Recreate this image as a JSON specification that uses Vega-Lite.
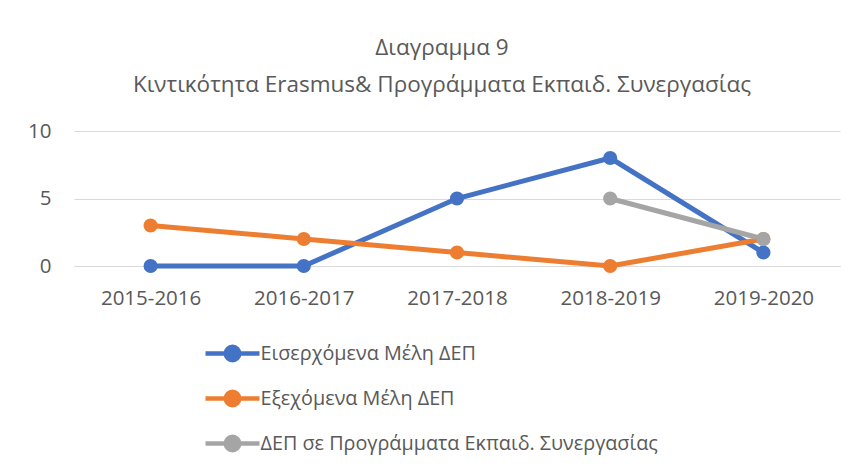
{
  "$schema": "https://vega.github.io/schema/vega-lite/v6.json",
  "autosize": "none",
  "width": 766,
  "height": 135,
  "padding": {"left": 74, "top": 131, "right": 18, "bottom": 202},
  "background": "white",
  "title": {
    "text": ["Διαγραμμα 9", "Κιντικότητα Erasmus& Προγράμματα Εκπαιδ. Συνεργασίας"],
    "anchor": "middle",
    "dx": -15,
    "offset": 25,
    "font": "Open Sans",
    "fontSize": 22.5,
    "fontWeight": "normal",
    "color": "#595959",
    "lineHeight": 37
  },
  "data": {
    "values": [
      {"year": "2015-2016", "series": "Εισερχόμενα Μέλη ΔΕΠ", "value": 0},
      {"year": "2016-2017", "series": "Εισερχόμενα Μέλη ΔΕΠ", "value": 0},
      {"year": "2017-2018", "series": "Εισερχόμενα Μέλη ΔΕΠ", "value": 5},
      {"year": "2018-2019", "series": "Εισερχόμενα Μέλη ΔΕΠ", "value": 8},
      {"year": "2019-2020", "series": "Εισερχόμενα Μέλη ΔΕΠ", "value": 1},
      {"year": "2015-2016", "series": "Εξεχόμενα Μέλη ΔΕΠ", "value": 3},
      {"year": "2016-2017", "series": "Εξεχόμενα Μέλη ΔΕΠ", "value": 2},
      {"year": "2017-2018", "series": "Εξεχόμενα Μέλη ΔΕΠ", "value": 1},
      {"year": "2018-2019", "series": "Εξεχόμενα Μέλη ΔΕΠ", "value": 0},
      {"year": "2019-2020", "series": "Εξεχόμενα Μέλη ΔΕΠ", "value": 2},
      {"year": "2018-2019", "series": "ΔΕΠ σε Προγράμματα Εκπαιδ. Συνεργασίας", "value": 5},
      {"year": "2019-2020", "series": "ΔΕΠ σε Προγράμματα Εκπαιδ. Συνεργασίας", "value": 2}
    ]
  },
  "encoding": {
    "x": {
      "field": "year",
      "type": "ordinal",
      "scale": {"type": "point", "padding": 0.5},
      "axis": {
        "title": null,
        "labelAngle": 0,
        "ticks": false,
        "domain": true,
        "domainColor": "#D9D9D9",
        "domainWidth": 1,
        "labelPadding": 22,
        "labelFont": "Open Sans",
        "labelFontSize": 20.5,
        "labelColor": "#595959"
      }
    },
    "y": {
      "field": "value",
      "type": "quantitative",
      "scale": {"domain": [0, 10], "nice": false},
      "axis": {
        "title": null,
        "values": [0, 5, 10],
        "ticks": false,
        "domain": false,
        "gridColor": "#D9D9D9",
        "gridWidth": 1,
        "labelPadding": 23,
        "labelFont": "Open Sans",
        "labelFontSize": 20.5,
        "labelColor": "#595959"
      }
    },
    "color": {
      "field": "series",
      "type": "nominal",
      "scale": {
        "domain": ["Εισερχόμενα Μέλη ΔΕΠ", "Εξεχόμενα Μέλη ΔΕΠ", "ΔΕΠ σε Προγράμματα Εκπαιδ. Συνεργασίας"],
        "range": ["#4472C4", "#ED7D31", "#A5A5A5"]
      },
      "legend": {
        "title": null,
        "orient": "none",
        "direction": "vertical",
        "legendX": 142.5,
        "legendY": 206.5,
        "padding": 0,
        "symbolType": "M-2,0L2,0M-0.5,0A0.5,0.5,0,1,1,0.5,0A0.5,0.5,0,1,1,-0.5,0",
        "symbolSize": 729,
        "symbolStrokeWidth": 4.5,
        "symbolFillColor": null,
        "labelOffset": 12,
        "rowPadding": 13,
        "labelFont": "Open Sans",
        "labelFontSize": 19.8,
        "labelColor": "#595959",
        "labelLimit": 600
      }
    }
  },
  "layer": [
    {"mark": {"type": "line", "strokeWidth": 5, "strokeCap": "round"}},
    {"mark": {"type": "point", "filled": true, "size": 200, "opacity": 1}}
  ],
  "config": {
    "view": {"stroke": null}
  }
}
